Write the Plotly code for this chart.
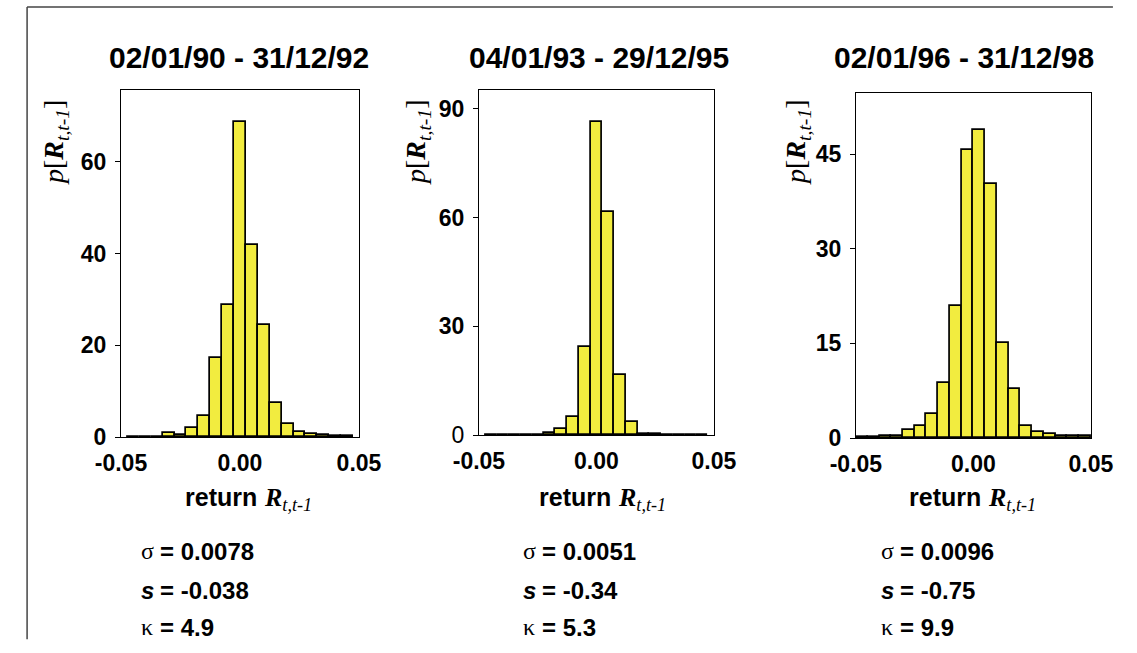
import plotly.graph_objects as go

W, H = 1137, 653

titles = ["02/01/90 - 31/12/92", "04/01/93 - 29/12/95", "02/01/96 - 31/12/98"]

# panel 1 (bin centres, density)
centers1 = [-0.045, -0.04, -0.035, -0.03, -0.025, -0.02, -0.015, -0.01, -0.005, 0.0,
            0.005, 0.01, 0.015, 0.02, 0.025, 0.03, 0.035, 0.04, 0.045]
density1 = [0.0, 0.0, 0.0, 0.9, 0.4, 2.0, 4.5, 17.2, 28.9, 68.7,
            41.8, 24.5, 7.5, 2.8, 1.2, 0.7, 0.4, 0.2, 0.2]
# panel 2
centers2 = [-0.045, -0.04, -0.035, -0.03, -0.025, -0.02, -0.015, -0.01, -0.005, 0.0,
            0.005, 0.01, 0.015, 0.02, 0.025, 0.03, 0.035, 0.04, 0.045]
density2 = [0.0, 0.0, 0.0, 0.0, 0.0, 0.6, 1.8, 5.1, 24.4, 86.3,
            61.6, 16.6, 3.5, 0.3, 0.2, 0.1, 0.1, 0.1, 0.1]
# panel 3
centers3 = [-0.0475, -0.0425, -0.0375, -0.0325, -0.0275, -0.0225, -0.0175, -0.0125, -0.0075, -0.0025,
            0.0025, 0.0075, 0.0125, 0.0175, 0.0225, 0.0275, 0.0325, 0.0375, 0.0425, 0.0475]
density3 = [0.1, 0.1, 0.3, 0.35, 1.2, 1.9, 3.75, 8.8, 21.0, 45.6,
            48.8, 40.3, 15.1, 7.7, 1.9, 0.95, 0.7, 0.3, 0.25, 0.25]

ytick_vals = [[0, 20, 40, 60], [0, 30, 60, 90], [0, 15, 30, 45]]
ytick_text = [["<b>0</b>", "<b>20</b>", "<b>40</b>", "<b>60</b>"],
              ["0", "<b>30</b>", "<b>60</b>", "<b>90</b>"],
              ["<b>0</b>", "<b>15</b>", "<b>30</b>", "<b>45</b>"]]
y_max = [75.7, 95.2, 54.7]
xtick_vals = [-0.05, 0.0, 0.05]
xtick_text = ["<b>-0.05</b>", "<b>0.00</b>", "<b>0.05</b>"]

sigma = ["0.0078", "0.0051", "0.0096"]
skew = ["-0.038", "-0.34", "-0.75"]
kurt = ["4.9", "5.3", "9.9"]

# target layout geometry in picture pixels
boxes = [(122, 360, 90, 437), (480, 715, 90, 435), (857, 1092, 93, 438)]
title_x = [240, 600, 965]
ytitle_x = [56, 418, 798]
xtitle_x = [240, 594, 964]
stat_x = [140, 522, 880]

# compensation for how the page is photographed (measured)
OX, SX, SY = 27.0, 0.957, 0.98


def px(x):
    return ((x - OX) / SX) / W


def py(y):
    return 1 - (y / SY) / H


FS = 1.04
SANS = "Liberation Sans, Arial, sans-serif"
SERIF = "Liberation Serif, Times New Roman, serif"

fig = go.Figure()
data = [(centers1, density1), (centers2, density2), (centers3, density3)]
annotations = []
for i, (cx, dy) in enumerate(data):
    n = "" if i == 0 else str(i + 1)
    fig.add_trace(go.Bar(
        x=cx, y=dy, width=0.005,
        marker=dict(color="#F2EC3F", line=dict(color="black", width=1.7)),
        xaxis="x" + n, yaxis="y" + n, showlegend=False,
    ))
    x0, x1, y0, y1 = boxes[i]
    fig.layout["xaxis" + n] = dict(
        domain=[px(x0), px(x1)], anchor="y" + n, range=[-0.05, 0.05],
        tickvals=xtick_vals, ticktext=xtick_text, ticks="",
        showline=True, mirror=True, linecolor="black", linewidth=1,
        showgrid=False, zeroline=False,
        tickfont=dict(family=SANS, size=round(22 * FS), color="black"),
        ticklabelstandoff=5,
    )
    fig.layout["yaxis" + n] = dict(
        domain=[py(y1), py(y0)], anchor="x" + n, range=[0, y_max[i]],
        tickvals=ytick_vals[i], ticktext=ytick_text[i], ticks="outside",
        ticklen=5, tickcolor="black",
        showline=True, mirror=True, linecolor="black", linewidth=1,
        showgrid=False, zeroline=False,
        tickfont=dict(family=SANS, size=round(22 * FS), color="black"),
        ticklabelstandoff=4,
    )
    # title
    annotations.append(dict(
        x=px(title_x[i]), y=py(57), xref="paper", yref="paper",
        text="<b>" + titles[i] + "</b>", showarrow=False,
        font=dict(family=SANS, size=round(29 * FS), color="black"),
        xanchor="center", yanchor="middle",
    ))
    # y axis title
    annotations.append(dict(
        x=px(ytitle_x[i]), y=py(142), xref="paper", yref="paper",
        text="<i>p</i>[<i><b>R</b></i><sub><i>t,t-1</i></sub>]", textangle=-90,
        showarrow=False, font=dict(family=SERIF, size=round(27 * FS), color="black"),
        xanchor="center", yanchor="middle",
    ))
    # x axis title: "return" in sans, R in serif
    annotations.append(dict(
        x=px(xtitle_x[i] + 20), y=py(497), xref="paper", yref="paper",
        text="<b>return</b>", showarrow=False,
        font=dict(family=SANS, size=round(24 * FS), color="black"),
        xanchor="right", yanchor="middle",
    ))
    annotations.append(dict(
        x=px(xtitle_x[i] + 23), y=py(499), xref="paper", yref="paper",
        text="<i><b>R</b></i><sub><i>t,t-1</i></sub>", showarrow=False,
        font=dict(family=SERIF, size=round(25 * FS), color="black"),
        xanchor="left", yanchor="middle",
    ))
    # statistics
    for sym, val, yy, fam in [("σ", sigma[i], 551, SERIF), ("<b><i>s</i></b>", skew[i], 590, SANS),
                              ("κ", kurt[i], 627, SERIF)]:
        annotations.append(dict(
            x=px(stat_x[i]), y=py(yy), xref="paper", yref="paper",
            text=sym, showarrow=False,
            font=dict(family=fam, size=round(23 * FS), color="black"),
            xanchor="left", yanchor="middle",
        ))
        annotations.append(dict(
            x=px(stat_x[i] + 19), y=py(yy), xref="paper", yref="paper",
            text="<b>= " + val + "</b>", showarrow=False,
            font=dict(family=SANS, size=round(23 * FS), color="black"),
            xanchor="left", yanchor="middle",
        ))

shapes = [
    dict(type="line", xref="paper", yref="paper", x0=0.001, x1=0.999, y0=py(7), y1=py(7),
         line=dict(color="#444444", width=1.5)),
    dict(type="line", xref="paper", yref="paper", x0=0.001, x1=0.001, y0=py(7), y1=0.001,
         line=dict(color="#444444", width=1.5)),
]

fig.update_layout(
    width=W, height=H, margin=dict(l=0, r=0, t=0, b=0),
    paper_bgcolor="white", plot_bgcolor="white",
    bargap=0, annotations=annotations, shapes=shapes, showlegend=False,
)

fig.write_html("out.html")
